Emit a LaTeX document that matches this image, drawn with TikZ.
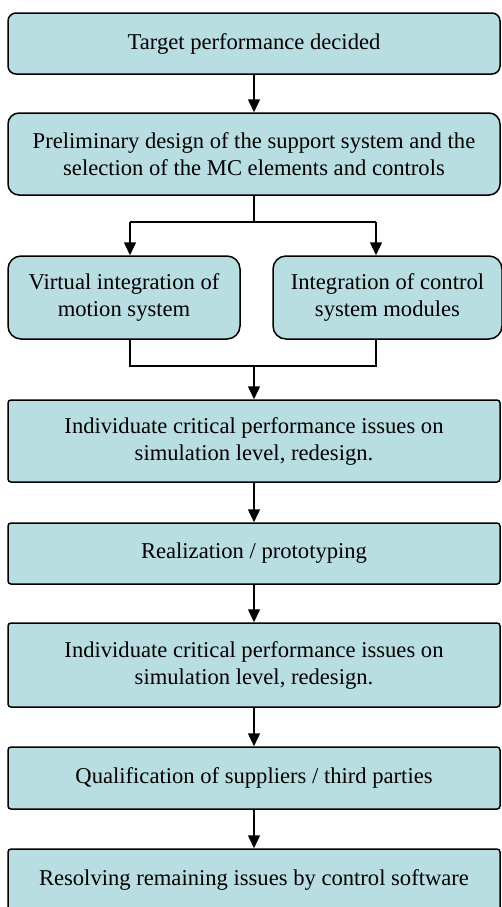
\documentclass[tikz,border=0pt]{standalone}
\usepackage{fontspec}
\setmainfont{Liberation Serif}
\usetikzlibrary{arrows.meta}

\definecolor{boxfill}{RGB}{184,222,225}

\tikzset{
    stage/.style={draw, fill=boxfill, line width=0.75pt, align=center, inner sep=0pt,
        font=\fontsize{11.3}{13.5}\selectfont},
    flow/.style={-{Triangle[width=6pt,length=6.5pt]}, line width=0.75pt},
    link/.style={line width=0.75pt}
}

\begin{document}
\begin{tikzpicture}[x=0.5pt,y=-0.5pt]
        \def\px{0.5pt}
        \def\midX{254}
        \def\fullWidth{492}
        \def\splitY{222}
        \def\mergeY{366}
        \useasboundingbox (0,0) rectangle (502,907);

        % Main column
        \foreach \name/\yPos/\boxHeight/\radius/\desc in {target/43.5/61/8/{Target performance decided},
                prelim/154/82/11/{Preliminary design of the support system and the\\selection of the MC elements and controls},
                crit/441/82/3/{Individuate critical performance issues on\\simulation level, redesign.},
                proto/553.5/61/3/{Realization / prototyping},
                recrit/665/84/3/{Individuate critical performance issues on\\simulation level, redesign.},
                qualif/778/62/3/{Qualification of suppliers / third parties},
                resolve/880/62/3/{Resolving remaining issues by control software}} {
                \node[stage, minimum width=\fullWidth*\px, minimum height=\boxHeight*\px, rounded corners=\radius*\px] (\name) at (\midX,\yPos) {\desc};
            }

        % Parallel branch
        \node[stage, minimum width=232*\px, minimum height=83*\px, rounded corners=13*\px] (virtual) at (124,297.5) {Virtual integration of\\motion system};
        \node[stage, minimum width=229*\px, minimum height=83*\px, rounded corners=13*\px] (modules) at (387.5,297.5) {Integration of control\\system modules};

        \draw[flow] (target) -- (prelim);

        % Split
        \coordinate (split) at (\midX,\splitY);
        \coordinate (leftDrop) at (130,\splitY);
        \coordinate (rightDrop) at (376,\splitY);
        \draw[link] (prelim) -- (split);
        \draw[link] (leftDrop) -- (rightDrop);
        \draw[flow] (leftDrop) -- (leftDrop |- virtual.north);
        \draw[flow] (rightDrop) -- (rightDrop |- modules.north);

        % Merge
        \coordinate (merge) at (\midX,\mergeY);
        \coordinate (leftJoin) at (130,\mergeY);
        \coordinate (rightJoin) at (376,\mergeY);
        \draw[link] (leftJoin |- virtual.south) -- (leftJoin) -- (rightJoin) -- (rightJoin |- modules.south);
        \draw[flow] (merge) -- (crit);

        % Remaining steps
        \foreach \from/\to in {crit/proto,proto/recrit,recrit/qualif,qualif/resolve} {
                \draw[flow] (\from) -- (\to);
            }
    \end{tikzpicture}
\end{document}
